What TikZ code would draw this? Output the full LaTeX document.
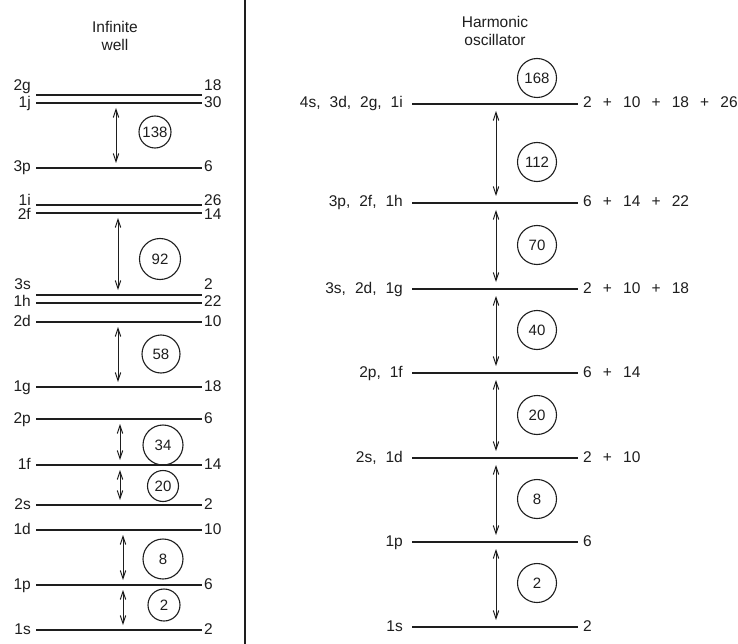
\documentclass[tikz,border=0pt]{standalone}
\usepackage{fontspec}
\setmainfont{Liberation Sans}
\usetikzlibrary{arrows.meta,positioning}
\definecolor{ink}{RGB}{30,30,30}
\tikzset{
  >={Straight Barb[length=8pt,width=5.5pt]},
  level/.style={draw=ink,line width=#1},
  level/.default=2pt,
  divider/.style={draw=ink,line width=1.3pt},
  gap/.style={<->,draw=ink,line width=1pt,shorten <=#1,shorten >=#1},
  gap/.default=6pt,
  magic/.style={circle,draw=ink,line width=1.1pt,inner sep=0pt,minimum size=#1,
    font=\fontsize{15}{17}\selectfont,text=ink},
  magic/.default=39pt,
  lab/.style={font=\fontsize{15.5}{18}\selectfont,text=ink,inner sep=1pt,
    text height=11pt,text depth=3pt},
  head/.style={font=\fontsize{15.5}{17.5}\selectfont,text=ink,align=center},
}
\newcommand{\splus}{\hspace{0.72em}+\hspace{0.72em}}
\newcommand{\lsep}{,\hspace{0.58em}}

\begin{document}
\begin{tikzpicture}[x=1pt,y=-1pt]
  \useasboundingbox[fill=white] (0,0) rectangle (738,644);
  % divider between the two wells
  \coordinate (top) at (245,0);
  \coordinate (bot) at (245,644);
  \draw[divider] (top) -- (bot);
  % headings
  \node[head] (wellT) at (115,36) {Infinite\\well};
  \node[head] (oscT) at (495,31) {Harmonic\\oscillator};
  % infinite well levels
  \foreach \n/\y/\ly/\k in {2g/95/87/18,1j/103/104/30,3p/168/168/6,1i/205/202/26,
    2f/213/216/14,3s/295/285/2,1h/303/302/22,2d/322/322/10,1g/387/387/18,
    2p/419/419/6,1f/465/465/14,2s/505/505/2,1d/530/530/10,1p/585/585/6,1s/630/630/2}{
    \coordinate (Wa\n) at (36,\y);
    \coordinate (Wb\n) at (202,\y);
    \draw[level] (Wa\n) -- (Wb\n);
    \node[lab,anchor=east] (Wl\n) at (32,\ly) {\n};
    \node[lab,anchor=west] (Wk\n) at (203,\ly) {\k};
  }
  % infinite well gaps
  \foreach \m/\x/\cx/\cy/\d/\ya/\yb [count=\i] in {138/116/155/132/32pt/103/168,
    92/118/160/259/41pt/213/295,58/118/161/354/38pt/322/387,34/120/163/445/40pt/419/465,
    20/120/163/486/31pt/465/505,8/123/163/559/40pt/530/585,2/123/164/605/32pt/585/630}{
    \coordinate (Wu\i) at (\x,\ya);
    \coordinate (Wd\i) at (\x,\yb);
    \draw[gap=5pt] (Wu\i) -- (Wd\i);
    \node[magic=\d] (Wc\i) at (\cx,\cy) {\m};
  }
  % harmonic oscillator levels
  \foreach \l/\s/\y [count=\i] in {{4s\lsep 3d\lsep 2g\lsep 1i}/{2\splus 10\splus 18\splus 26}/104,
    {3p\lsep 2f\lsep 1h}/{6\splus 14\splus 22}/203,{3s\lsep 2d\lsep 1g}/{2\splus 10\splus 18}/289,
    {2p\lsep 1f}/{6\splus 14}/373,{2s\lsep 1d}/{2\splus 10}/458,{1p}/{6}/542,{1s}/{2}/627}{
    \coordinate (Ha\i) at (412,\y);
    \coordinate (Hb\i) at (578,\y);
    \draw[level=1.7pt] (Ha\i) -- (Hb\i);
    \node[lab,anchor=east] (Hl\i) at (404,\y) {\l};
    \node[lab,anchor=west] (Hk\i) at (582,\y) {\s};
  }
  % harmonic oscillator gaps
  \node[magic] (Hc0) at (537,78) {168};
  \foreach \m/\ya/\yb/\cy [count=\i] in {112/104/203/162,70/203/289/245,40/289/373/330,
    20/373/458/415,8/458/542/499,2/542/627/583}{
    \coordinate (Hu\i) at (496,\ya);
    \coordinate (Hd\i) at (496,\yb);
    \draw[gap=7pt] (Hu\i) -- (Hd\i);
    \node[magic] (Hc\i) at (537,\cy) {\m};
  }
\end{tikzpicture}
\end{document}
